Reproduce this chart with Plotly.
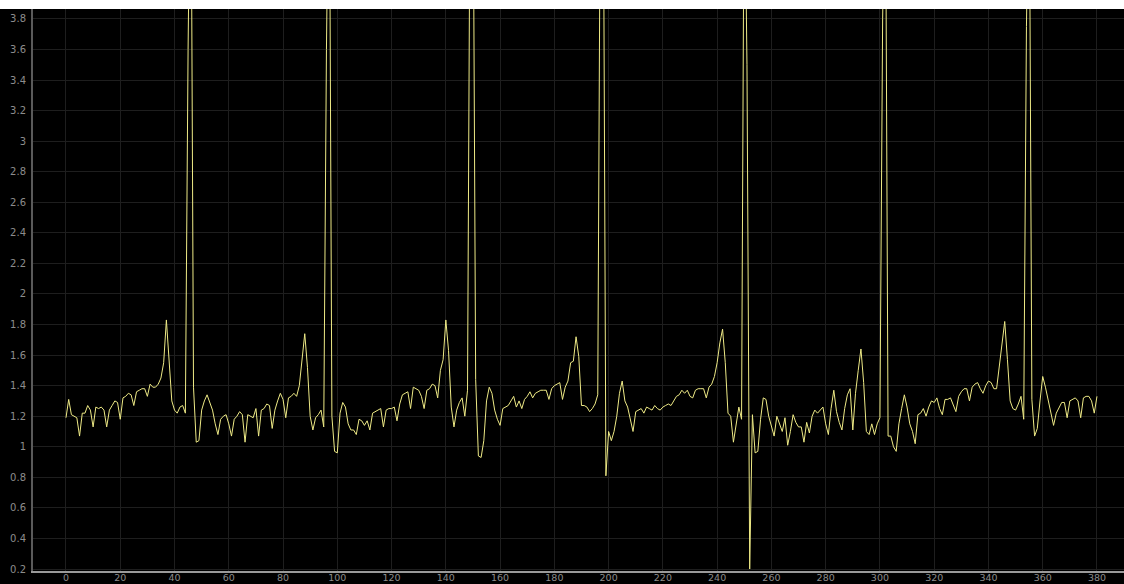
import plotly.graph_objects as go

# Signal samples, one per x index (0..380)
x_values = list(range(0, 381))
y_values = [
    1.19, 1.31, 1.21, 1.20, 1.19, 1.07, 1.22, 1.22, 1.27, 1.24,
    1.13, 1.26, 1.25, 1.26, 1.24, 1.13, 1.24, 1.27, 1.30, 1.29,
    1.18, 1.32, 1.33, 1.35, 1.34, 1.27, 1.36, 1.37, 1.38, 1.38,
    1.33, 1.41, 1.39, 1.39, 1.41, 1.45, 1.55, 1.83, 1.53, 1.30,
    1.24, 1.22, 1.26, 1.27, 1.22, 3.60, 5.20, 1.39, 1.03, 1.04,
    1.24, 1.30, 1.34, 1.29, 1.24, 1.15, 1.08, 1.18, 1.20, 1.21,
    1.15, 1.07, 1.18, 1.20, 1.23, 1.21, 1.03, 1.21, 1.20, 1.19,
    1.25, 1.07, 1.24, 1.25, 1.28, 1.27, 1.12, 1.24, 1.30, 1.35,
    1.31, 1.19, 1.32, 1.33, 1.35, 1.33, 1.40, 1.55, 1.74, 1.52,
    1.20, 1.11, 1.19, 1.21, 1.24, 1.13, 3.60, 5.20, 1.20, 0.97,
    0.96, 1.22, 1.29, 1.26, 1.15, 1.11, 1.11, 1.08, 1.18, 1.17,
    1.14, 1.17, 1.11, 1.22, 1.23, 1.24, 1.25, 1.13, 1.24, 1.25,
    1.25, 1.26, 1.17, 1.28, 1.34, 1.35, 1.36, 1.25, 1.39, 1.38,
    1.37, 1.33, 1.25, 1.37, 1.38, 1.41, 1.40, 1.32, 1.50, 1.57,
    1.83, 1.63, 1.26, 1.13, 1.24, 1.29, 1.32, 1.20, 1.37, 5.00,
    5.00, 1.44, 0.94, 0.93, 1.04, 1.30, 1.39, 1.35, 1.24, 1.18,
    1.14, 1.25, 1.26, 1.27, 1.30, 1.33, 1.26, 1.30, 1.25, 1.31,
    1.33, 1.36, 1.32, 1.35, 1.36, 1.37, 1.37, 1.37, 1.31, 1.38,
    1.40, 1.41, 1.42, 1.31, 1.39, 1.43, 1.55, 1.56, 1.72, 1.59,
    1.27, 1.27, 1.26, 1.23, 1.25, 1.28, 1.34, 5.00, 5.00, 0.81,
    1.10, 1.04, 1.10, 1.20, 1.35, 1.43, 1.30, 1.26, 1.18, 1.10,
    1.23, 1.24, 1.25, 1.22, 1.26, 1.25, 1.24, 1.27, 1.25, 1.24,
    1.26, 1.27, 1.28, 1.27, 1.30, 1.33, 1.34, 1.37, 1.35, 1.37,
    1.33, 1.32, 1.37, 1.38, 1.38, 1.38, 1.32, 1.39, 1.41, 1.46,
    1.55, 1.68, 1.77, 1.55, 1.22, 1.20, 1.03, 1.15, 1.26, 1.18,
    5.00, 3.50, 0.20, 1.21, 0.96, 0.97, 1.18, 1.32, 1.31, 1.20,
    1.13, 1.07, 1.20, 1.15, 1.10, 1.19, 1.01, 1.10, 1.21, 1.16,
    1.13, 1.13, 1.03, 1.16, 1.09, 1.20, 1.24, 1.22, 1.24, 1.26,
    1.15, 1.08, 1.25, 1.37, 1.23, 1.16, 1.11, 1.25, 1.34, 1.38,
    1.11, 1.35, 1.50, 1.64, 1.42, 1.10, 1.08, 1.15, 1.08, 1.15,
    1.19, 3.80, 5.00, 1.07, 1.07, 1.00, 0.97, 1.15, 1.25, 1.34,
    1.26, 1.15, 1.10, 1.02, 1.21, 1.22, 1.25, 1.20, 1.26, 1.30,
    1.29, 1.32, 1.25, 1.21, 1.31, 1.31, 1.32, 1.27, 1.23, 1.33,
    1.36, 1.38, 1.38, 1.30, 1.39, 1.41, 1.42, 1.38, 1.35, 1.40,
    1.43, 1.42, 1.38, 1.38, 1.52, 1.68, 1.82, 1.57, 1.30, 1.25,
    1.24, 1.28, 1.33, 1.18, 3.75, 5.00, 1.31, 1.07, 1.12, 1.30,
    1.46, 1.39, 1.31, 1.22, 1.14, 1.22, 1.26, 1.29, 1.29, 1.19,
    1.30, 1.31, 1.32, 1.30, 1.19, 1.32, 1.33, 1.33, 1.30, 1.22,
    1.33,
]

x_tick_vals = list(range(0, 381, 20))
y_tick_vals = [0.2, 0.4, 0.6, 0.8, 1, 1.2, 1.4, 1.6, 1.8, 2, 2.2, 2.4,
               2.6, 2.8, 3, 3.2, 3.4, 3.6, 3.8]

fig = go.Figure()
fig.add_trace(go.Scatter(
    x=x_values, y=y_values, mode="lines",
    line=dict(color="#eeea86", width=1),
    hoverinfo="skip", showlegend=False,
))

W, H = 1124, 584
mt, mb, ml, mr = 9, 13, 33, 0
ph = H - mt - mb

fig.update_layout(
    width=W, height=H,
    margin=dict(l=ml, r=mr, t=mt, b=mb, pad=0, autoexpand=False),
    paper_bgcolor="#000000",
    plot_bgcolor="#000000",
    font=dict(family="DejaVu Sans", size=10, color="#8c8c8c"),
    showlegend=False,
    hovermode=False,
    xaxis=dict(
        range=[-12.16, 389.96],
        tickvals=x_tick_vals,
        showgrid=True, gridcolor="#1e1e1e", gridwidth=1,
        zeroline=False, automargin=False,
        showline=True, linecolor="#9a9a9a", linewidth=2,
        ticks="", ticklabelstandoff=-3,
        tickfont=dict(size=9.5, color="#8c8c8c"),
    ),
    yaxis=dict(
        range=[0.187, 3.865],
        tickvals=y_tick_vals,
        showgrid=True, gridcolor="#1e1e1e", gridwidth=1,
        zeroline=False, automargin=False,
        showline=True, linecolor="#5a5a5a", linewidth=2,
        ticks="", ticklabelstandoff=3,
        tickfont=dict(size=10, color="#8c8c8c"),
    ),
    shapes=[dict(
        type="rect", xref="paper", yref="paper",
        x0=-0.1, x1=1.1, y0=1.0, y1=1.0 + (mt + 1) / ph,
        fillcolor="#ffffff", line=dict(width=0), layer="above",
    )],
)

fig.write_html(
    "out.html",
    config={"displayModeBar": False},
    post_script="document.body.style.margin='0px';document.body.style.overflow='hidden';",
)
